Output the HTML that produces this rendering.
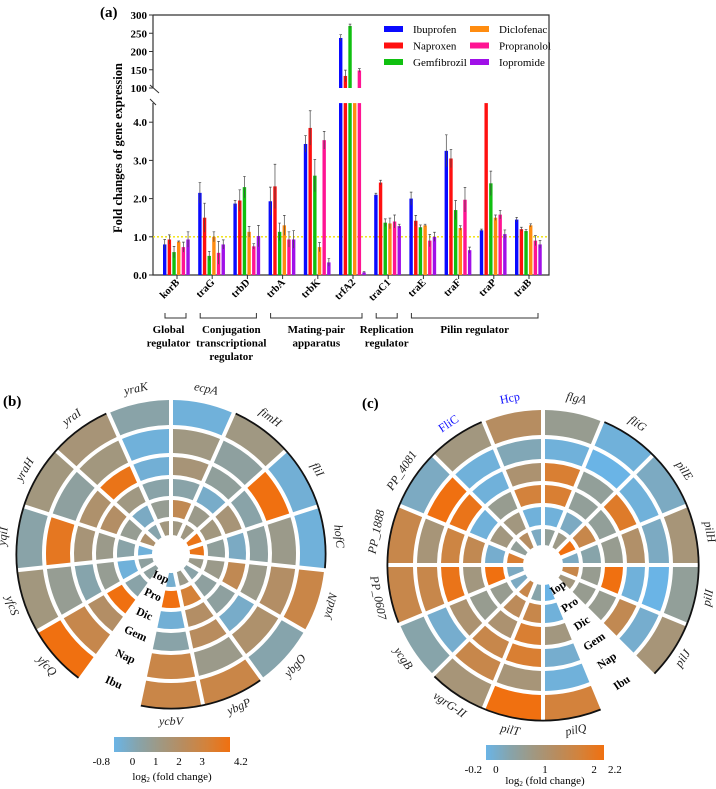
<!DOCTYPE html>
<html><head><meta charset="utf-8">
<style>
html,body{margin:0;padding:0;background:#fff;}
svg{display:block;font-family:"Liberation Serif",serif;}
</style></head>
<body>
<svg id="fig" width="716" height="789" viewBox="0 0 716 789" xmlns="http://www.w3.org/2000/svg">
<g id="barchart"></g>
<g id="polarB"></g>
<g id="polarC"></g>
</svg>
<script>
// ---------- Panel (a) data ----------
const genes = ["korB","traG","trbD","trbA","trbK","trfA2","traC1","traE","traF","traP","traB"];
const seriesNames = ["Ibuprofen","Naproxen","Gemfibrozil","Diclofenac","Propranolol","Iopromide"];
const seriesColors = ["#0a0aff","#ff1010","#10c010","#ff8c10","#ff1493","#a010e8"];
const ibuVals = [0.8,2.15,1.87,1.93,3.43,237,2.1,2.0,3.25,1.17,1.45];
const napVals = [0.93,1.5,1.95,2.32,3.85,133,2.42,1.42,3.05,50,1.2];
const gemVals = [0.6,0.5,2.3,1.13,2.6,270,1.37,1.25,1.7,2.4,1.15];
const dicVals = [0.87,1.0,1.13,1.3,0.73,50,1.35,1.3,1.23,1.5,1.3];
const proVals = [0.73,0.58,0.75,0.93,3.53,148,1.4,0.9,1.97,1.58,0.9];
const iopVals = [0.93,0.8,1.02,0.93,0.33,0.07,1.28,1.0,0.65,1.07,0.8];
const ibuErr = [0.13,0.27,0.08,0.37,0.22,9,0.04,0.17,0.42,0.03,0.06];
const napErr = [0.12,0.38,0.28,0.58,0.45,16,0.06,0.14,0.24,0,0.05];
const gemErr = [0.15,0.12,0.28,0.23,0.42,5,0.1,0.06,0.25,0.32,0.04];
const dicErr = [0.02,0.13,0.14,0.26,0.12,0,0.14,0.03,0.06,0.07,0.04];
const proErr = [0.13,0.3,0.07,0.2,0.23,5,0.17,0.16,0.32,0.11,0.13];
const iopErr = [0.2,0.12,0.28,0.23,0.1,0.02,0.05,0.12,0.08,0.11,0.1];
const lowerTicks = [0.0,1.0,2.0,3.0,4.0];
const upperTicks = [100,150,200,250,300];
const groupLabels = [["Global","regulator"],["Conjugation","transcriptional","regulator"],["Mating-pair","apparatus"],["Replication","regulator"],["Pilin regulator"]];
const groupRanges = [[0,0],[1,2],[3,5],[6,6],[7,10]];

const NS="http://www.w3.org/2000/svg";
function mk(parent,tag,attrs,text){const e=document.createElementNS(NS,tag);for(const k in attrs)e.setAttribute(k,attrs[k]);if(text!==undefined)e.textContent=text;parent.appendChild(e);return e;}

const X0=153, X1=549, Y0=275, YTOP=15;
const LOW_MAX=4.5, LOW_PX=38.2, UP_BASE=88, UP_PX=73/200;
function yLow(v){return Y0 - Math.min(v,LOW_MAX)*LOW_PX;}
function yUp(v){return UP_BASE - (v-100)*UP_PX;}
function xCenter(i){return 177 + i*35.2;}
function xBar(i,j){return xCenter(i) - 14 + j*4.67;}

(function(){
  const g=document.getElementById('barchart');
  const t=mk(g,'text',{x:100,y:17,'font-size':15,'font-weight':'bold'},'(a)');
  
  
  const fr=mk(g,'path',{d:`M${X0},${YTOP} H${X1} V${Y0} H${X0} V103 M${X0},${UP_BASE} V${YTOP}`,fill:'none',stroke:'#333','stroke-width':1.2});
  
  
  mk(g,'path',{d:`M${X0-3},${UP_BASE-3} L${X0+6},${UP_BASE+5} M${X0-3},99 L${X0+3},105`,stroke:'#333','stroke-width':1,fill:'none'});
  const rl=mk(g,'line',{x1:X0,x2:X1,y1:yLow(1),y2:yLow(1),stroke:'#f0e000','stroke-width':1.3,'stroke-dasharray':'2,2'});
  
  
  lowerTicks.forEach(v=>{
    const y=yLow(v);
    mk(g,'line',{x1:X0-4,x2:X0,y1:y,y2:y,stroke:'#333'});
    const tl=mk(g,'text',{x:X0-6,y:y+4,'font-size':11,'font-weight':'bold','text-anchor':'end'},v.toFixed(1));
    
    
  });
  upperTicks.forEach(v=>{
    const y=yUp(v);
    mk(g,'line',{x1:X0-4,x2:X0,y1:y,y2:y,stroke:'#333'});
    const tl=mk(g,'text',{x:X0-6,y:y+4,'font-size':11,'font-weight':'bold','text-anchor':'end'},String(v));
    
    
  });
  const yt=mk(g,'text',{x:0,y:0,'font-size':12.5,'font-weight':'bold','text-anchor':'middle',transform:'translate(122,148) rotate(-90)'},'Fold changes of gene expression');
  
  
  const vals=[ibuVals,napVals,gemVals,dicVals,proVals,iopVals];
  const errs=[ibuErr,napErr,gemErr,dicErr,proErr,iopErr];
  genes.forEach((gn,i)=>{
    vals.forEach((arr,j)=>{
      const v=arr[i], e=errs[j][i], x=xBar(i,j), w=3.4;
      const b=mk(g,'rect',{x:x,y:yLow(v),width:w,height:Y0-yLow(v),fill:seriesColors[j]});
      
      
      let et=null, eb=null;
      if(v>=100){
        const b2=mk(g,'rect',{x:x,y:yUp(v),width:w,height:UP_BASE-yUp(v),fill:seriesColors[j]});
        
        
        et=yUp(v+e); eb=yUp(v-e);
      } else if(v<=LOW_MAX){ et=yLow(v+e); eb=yLow(Math.max(0,v-e)); }
      if(et!==null && e>0){
        const cx=x+w/2;
        mk(g,'path',{d:`M${cx},${eb} V${et} M${cx-1.3},${et} H${cx+1.3}`,stroke:'#444','stroke-width':0.7,fill:'none'});
      }
    });
    const cx=xCenter(i);
    mk(g,'line',{x1:cx,x2:cx,y1:Y0,y2:Y0+4,stroke:'#333'});
    const gl=mk(g,'text',{x:0,y:0,'font-size':10.5,'font-weight':'bold','text-anchor':'end',transform:`translate(${cx+3},${Y0+8}) rotate(-45)`},gn);
    
    
  });
  seriesNames.forEach((n,j)=>{
    const col=Math.floor(j/3), row=j%3;
    const lx=384+col*86, ly=29+row*16.5;
    const sw=mk(g,'rect',{x:lx,y:ly-3,width:19,height:6,fill:seriesColors[j]});
    
    
    const lt=mk(g,'text',{x:lx+29,y:ly+4,'font-size':11},n);
    
    
  });
  groupRanges.forEach((r,k)=>{
    const xa=xCenter(r[0])-12, xb=xCenter(r[1])+9;
    const br=mk(g,'path',{d:`M${xa},313 V318 H${xb} V313`,fill:'none',stroke:'#333','stroke-width':1});
    
    
    const cx=(xa+xb)/2 + (k===0?-7:(k===1?3:0));
    groupLabels[k].forEach((ln,m)=>{
      const tx=mk(g,'text',{x:cx,y:333+m*13.5,'font-size':11,'font-weight':'bold','text-anchor':'middle'},ln);
      
      
    });
  });
})();

// ---------- Polar heatmaps data ----------
const ringNames = ["Ibu","Nap","Gem","Dic","Pro","Iop"];
const genesB = ["ecpA","fimH","fliI","hofC","yadN","ybgO","ybgP","ycbV",null,"yfcQ","yfcS","yqiI","yraH","yraI","yraK"];
const valuesB = [
 [-0.6,1.2,1.5,0.3,2.5,1.2],
 [1.2,0.5,0.6,-0.3,1.0,1.2],
 [-0.5,4.2,0.3,1.5,1.3,4.0],
 [-0.6,1.0,0.5,-0.2,0.6,4.0],
 [2.8,2.0,1.0,2.5,1.0,1.0],
 [0.2,1.8,-0.3,0.5,0.5,0.3],
 [2.8,1.0,2.2,2.0,3.2,1.0],
 [2.8,2.8,0.3,-0.5,4.2,-0.4],
 null,
 [4.2,2.7,2.0,4.2,0.3,0.5],
 [1.3,0.8,0.2,0.8,-0.6,0.5],
 [0.3,3.8,1.5,1.0,0.3,-0.6],
 [1.3,0.5,1.8,2.0,0.8,1.8],
 [1.5,1.3,4.0,1.2,-0.2,0.2],
 [0.3,-0.6,-0.5,0.3,0.8,1.3]
];
const genesC = ["flgA","fliG","pilE","pilH","pilI","pilJ",null,"pilQ","pilT","vgrG-II","ycgB","PP_0607","PP_1888","PP_4081","FliC","Hcp"];
const valuesC = [
 [0.6,-0.1,1.8,1.8,-0.1,0.5],
 [-0.1,-0.2,0.5,0.5,0.1,0.7],
 [0.1,-0.1,1.9,0.5,1.5,2.2],
 [0.9,0.1,1.1,0.6,0.3,0.1],
 [0.5,-0.2,-0.1,2.2,0.6,1.5],
 [0.9,0.0,1.4,0.6,0.6,0.8],
 null,
 [1.7,-0.1,0.0,0.8,-0.1,-0.2],
 [2.2,0.9,1.8,1.8,1.5,0.3],
 [0.9,1.5,1.5,1.0,1.3,1.5],
 [0.3,0.0,1.0,0.6,0.6,0.1],
 [1.5,1.5,2.1,0.8,2.2,0.1],
 [1.5,0.9,1.6,1.4,0.0,1.8],
 [0.1,2.2,2.1,-0.1,0.8,0.5],
 [0.8,-0.1,-0.1,0.6,0.8,1.2],
 [1.2,0.2,1.0,1.7,-0.1,0.1]
];
const ticksB = [-0.8,0,1,2,3,4.2];
const ticksC = [-0.2,0,1,2,2.2];
const blackArcsB = [[1,3],[6,7],[9,13]];
const blackArcsC = [[1,5],[7,9],[11,14]];

const stops=[[0,[106,180,230]],[0.2,[134,164,172]],[0.4,[160,152,130]],[0.6,[184,140,94]],[0.8,[212,130,58]],[1,[240,112,16]]];
function cmap(t){t=Math.max(0,Math.min(1,t));for(let i=1;i<stops.length;i++){if(t<=stops[i][0]){const a=stops[i-1],b=stops[i];const f=(t-a[0])/(b[0]-a[0]);return 'rgb('+a[1].map((c,k)=>Math.round(c+(b[1][k]-c)*f)).join(',')+')';}}return 'rgb(240,112,16)';}

function polar(gid,opt){
  const g=document.getElementById(gid);
  const {cx,cy,radii,gns,vals,vmin,vmax,arcs,label,lx,ly,bar,ticks,titleOff}=opt;
  const n=gns.length, step=360/n, gapPx=2;
  function pt(r,a){const t=a*Math.PI/180;return [cx+r*Math.sin(t), cy-r*Math.cos(t)];}
  const pl=mk(g,'text',{x:lx,y:ly,'font-size':15,'font-weight':'bold'},label);
  
  
  gns.forEach((gn,i)=>{
    if(!gn) return;
    ringNames.forEach((rn,k)=>{
      const r1=radii[6-k]-gapPx, r0=radii[5-k]+gapPx;
      const da0=(gapPx/r0)*180/Math.PI, da1=(gapPx/r1)*180/Math.PI;
      const a0=i*step, a1=(i+1)*step;
      const p1=pt(r1,a0+da1),p2=pt(r1,a1-da1),p3=pt(r0,a1-da0),p4=pt(r0,a0+da0);
      const d=`M${p1} A${r1},${r1} 0 0 1 ${p2} L${p3} A${r0},${r0} 0 0 0 ${p4} Z`;
      const c=mk(g,'path',{d:d,fill:cmap((vals[i][k]-vmin)/(vmax-vmin))});
      
      
    });
    const am=(i+0.5)*step;
    const p=pt(radii[6]+12,am);
    let rot=(am<90||am>270)?am:am-180;
    const isBlue=(gn==="FliC"||gn==="Hcp");
    const tl=mk(g,'text',{x:0,y:0,'font-size':12,'font-style':isBlue?'normal':'italic','text-anchor':'middle','dominant-baseline':'middle',fill:isBlue?'#1010ff':'#222',transform:`translate(${p[0].toFixed(1)},${p[1].toFixed(1)}) rotate(${rot.toFixed(1)})`},gn);
    
    
  });
  arcs.forEach(([s,e])=>{
    const r=radii[6]-gapPx+0.6;
    const a0=s*step+(gapPx/r)*180/Math.PI, a1=(e+1)*step-(gapPx/r)*180/Math.PI;
    const p1=pt(r,a0),p2=pt(r,a1);
    const large=(a1-a0)>180?1:0;
    const ar=mk(g,'path',{d:`M${p1} A${r},${r} 0 ${large} 1 ${p2}`,fill:'none',stroke:'#111','stroke-width':1.8});
    
    
  });
  const gi=gns.indexOf(null), ga=(gi+0.5)*step;
  ringNames.forEach((rn,k)=>{
    const r=(radii[6-k]+radii[5-k])/2;
    const p=pt(r,ga);
    const rot=ga-180;
    const tl=mk(g,'text',{x:0,y:0,'font-size':11.5,'font-weight':'bold','text-anchor':'middle','dominant-baseline':'middle',transform:`translate(${p[0].toFixed(1)},${p[1].toFixed(1)}) rotate(${rot.toFixed(1)})`},rn);
    
    
  });
  const gradId=gid+'grad';
  const defs=mk(g,'defs',{});
  const lg=mk(defs,'linearGradient',{id:gradId,x1:0,x2:1,y1:0,y2:0});
  stops.forEach(s=>mk(lg,'stop',{offset:s[0],'stop-color':cmap(s[0])}));
  const cb=mk(g,'rect',{x:bar.x,y:bar.y,width:bar.w,height:bar.h,fill:`url(#${gradId})`});
  
  
  ticks.forEach((v,idx)=>{
    let tx=bar.x+(v-vmin)/(vmax-vmin)*bar.w;
    if(idx===0) tx-=4; if(idx===ticks.length-1) tx+=4;
    const tl=mk(g,'text',{x:tx,y:bar.y+bar.h+13,'font-size':11,'text-anchor':idx===0?'end':(idx===ticks.length-1?'start':'middle')},String(v));
    
    
  });
  const ct=mk(g,'text',{x:bar.x+bar.w/2,y:bar.y+bar.h+titleOff,'font-size':11,'text-anchor':'middle'},'');
  
  
  ct.appendChild(document.createTextNode('log'));
  mk(ct,'tspan',{'font-size':7,dy:2},'2');
  mk(ct,'tspan',{dy:-2},' (fold change)');
}

polar('polarB',{cx:171,cy:554,radii:[17,35,56,77,99,127,156],gns:genesB,vals:valuesB,vmin:-0.8,vmax:4.2,arcs:blackArcsB,label:'(b)',lx:3,ly:406,bar:{x:114,y:737,w:116,h:15},ticks:ticksB,titleOff:28});
polar('polarC',{cx:543,cy:565,radii:[18,38,60,82,104,128,157],gns:genesC,vals:valuesC,vmin:-0.2,vmax:2.2,arcs:blackArcsC,label:'(c)',lx:362,ly:408,bar:{x:486,y:745,w:118,h:15},ticks:ticksC,titleOff:24});
</script>
</body></html>
